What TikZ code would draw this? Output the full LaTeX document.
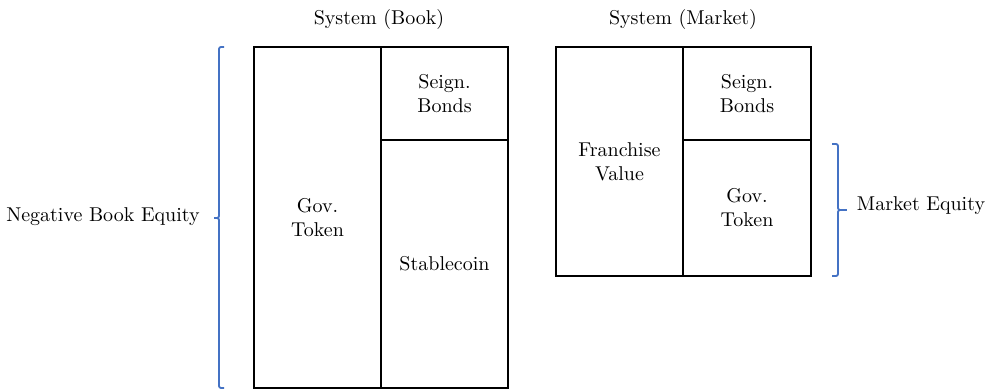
\documentclass[tikz,border=0pt]{standalone}
\usepackage{tikz}
\definecolor{braceblue}{RGB}{68,114,196}
\newcommand{\cell}[4]{ \draw[line width=1pt] ( #1 , #2 ) rectangle ( #3 , #4 );}
\newcommand{\lablnode}[4]{\node[shape=rectangle,draw=none,fill=none, inner sep=0pt,align=center] (#1) at ( #2 , #3 ) {#4};}
\newcommand{\braceL}[4]{\draw[braceblue, line width=0.9pt, rounded corners=1pt] ( #1 + 5 , #2 ) -- ( #1 , #2 ) -- ( #1 , #3 ) -- ( #1 - 6 , #3 ) -- ( #1 , #3 ) -- ( #1 , #4 ) -- ( #1 + 5 , #4 );}
\newcommand{\braceR}[4]{\draw[braceblue, line width=0.9pt, rounded corners=1pt] ( #1 - 6 , #2 ) -- ( #1 , #2 ) -- ( #1 , #3 ) -- ( #1 + 10 , #3 ) -- ( #1 , #3 ) -- ( #1 , #4 ) -- ( #1 - 6 , #4 );}

\begin{document}
\begin{tikzpicture}[x=0.5pt, y=-0.5pt]

        \useasboundingbox (0,0) rectangle (987,390);

        % book
        \cell{254}{47}{381}{388}
        \cell{381}{47}{508}{140}
        \cell{381}{140}{508}{388}

        \( \lablnode{booktitle}{379}{20}{System (Book)} \)
        \( \lablnode{bookgov}{317.5}{217.5}{Gov.\\Token} \)
        \( \lablnode{bookseign}{444.5}{93.5}{Seign.\\Bonds} \)
        \( \lablnode{bookstable}{444.5}{264}{Stablecoin} \)

        \braceL{219}{47}{218}{388}
        \( \lablnode{negequity}{103}{217}{Negative Book Equity} \)

        % market
        \cell{556}{47}{683}{276}
        \cell{683}{47}{811}{140}
        \cell{683}{140}{811}{276}

        \( \lablnode{markettitle}{683}{20}{System (Market)} \)
        \( \lablnode{franchise}{619.5}{161.5}{Franchise\\Value} \)
        \( \lablnode{marketseign}{747}{93.5}{Seign.\\Bonds} \)
        \( \lablnode{marketgov}{747}{208}{Gov.\\Token} \)

        \braceR{838}{144}{210}{276}
        \( \lablnode{mktequity}{921}{206}{Market Equity} \)

    \end{tikzpicture}
\end{document}
